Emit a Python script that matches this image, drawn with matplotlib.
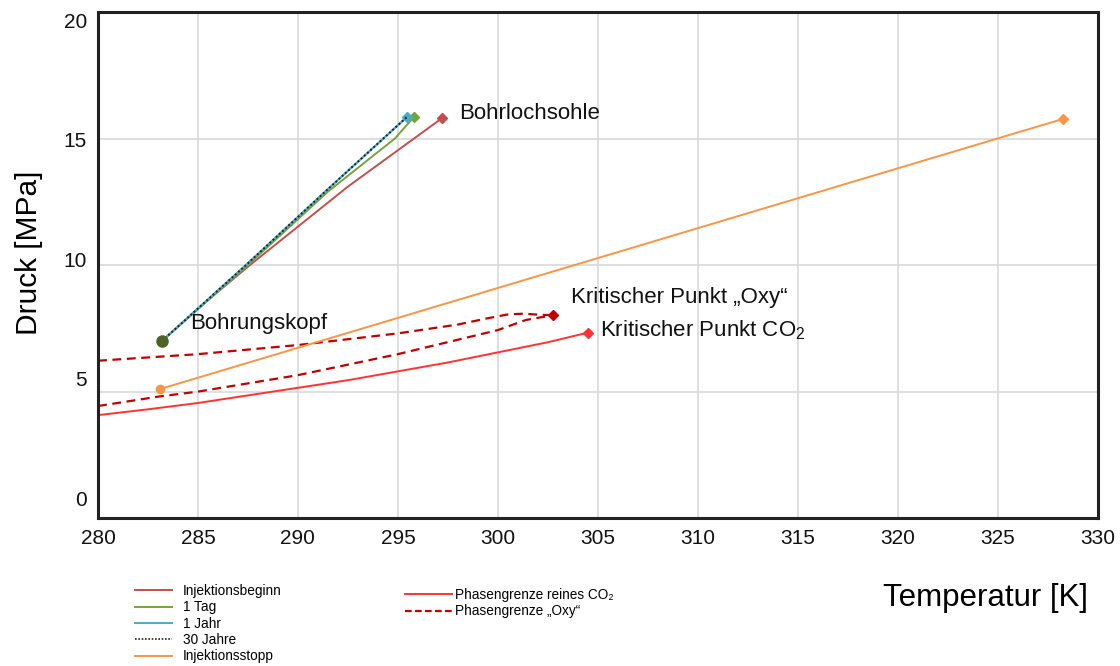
import matplotlib.pyplot as plt
from matplotlib.lines import Line2D
from matplotlib.transforms import ScaledTranslation

plt.rcParams['font.family'] = ['Liberation Sans', 'DejaVu Sans']
plt.rcParams['mathtext.fontset'] = 'custom'
plt.rcParams['mathtext.rm'] = 'Liberation Sans'

# Well profiles: temperature [K] / pressure [MPa] from wellhead to bottom hole
t_beginn = [283.2, 285.4, 287.6, 292.5, 297.2]
p_beginn = [7.0, 8.55, 10.0, 13.1, 15.8]
t_tag = [283.2, 287.5, 291.5, 294.85, 295.8]
p_tag = [7.0, 10.0, 12.9, 15.0, 15.85]
t_jahr = [283.2, 287.4, 291.5, 295.45]
p_jahr = [7.0, 10.0, 13.0, 15.85]
t_30 = [283.2, 287.4, 291.5, 295.45]
p_30 = [7.0, 10.0, 13.0, 15.85]
t_stopp = [283.1, 328.25]
p_stopp = [5.1, 15.77]

# Phase boundaries
t_co2 = [280.0, 282.5, 285.0, 287.5, 290.0, 292.5, 295.0, 297.5, 300.0, 302.5, 304.5]
p_co2 = [4.07, 4.3, 4.55, 4.85, 5.15, 5.45, 5.8, 6.15, 6.55, 6.95, 7.33]
t_oxy_tau = [280.0, 285.0, 290.0, 295.0, 298.0, 299.5, 300.5, 301.3, 302.0, 302.75]
p_oxy_tau = [6.22, 6.48, 6.84, 7.3, 7.65, 7.9, 8.05, 8.08, 8.04, 8.02]
t_oxy_siede = [280.0, 283.0, 285.0, 290.0, 295.0, 300.0, 301.4, 302.75]
p_oxy_siede = [4.43, 4.8, 5.0, 5.65, 6.48, 7.43, 7.83, 8.02]

x_ticks = [280, 285, 290, 295, 300, 305, 310, 315, 320, 325, 330]
y_ticks = [0, 5, 10, 15, 20]

c_beginn = '#c0504d'
c_tag = '#77a33c'
c_jahr = '#4bacc6'
c_stopp = '#f79646'
c_co2 = '#ff3333'
c_oxy = '#c00000'

fig = plt.figure(figsize=(11.2, 6.66), dpi=100)
ax = fig.add_axes([0.0875, 0.222, 0.8925, 0.76])

ax.plot(t_co2, p_co2, color=c_co2, lw=1.4)
ax.plot(t_co2[-1], p_co2[-1], 'D', color=c_co2, ms=5)
ax.plot(t_oxy_tau, p_oxy_tau, color=c_oxy, lw=1.6, ls=(0, (4, 2.5)))
ax.plot(t_oxy_siede, p_oxy_siede, color=c_oxy, lw=1.6, ls=(0, (4, 2.5)))
ax.plot(t_oxy_siede[-1], p_oxy_siede[-1], 'D', color=c_oxy, ms=5)

ax.plot(t_stopp, p_stopp, color=c_stopp, lw=1.4)
ax.plot(t_stopp[0], p_stopp[0], 'o', color=c_stopp, ms=6)
ax.plot(t_stopp[-1], p_stopp[-1], 'D', color=c_stopp, ms=5)

ax.plot(t_beginn, p_beginn, color=c_beginn, lw=1.4)
ax.plot(t_beginn[-1], p_beginn[-1], 'D', color=c_beginn, ms=5)
ax.plot(t_tag, p_tag, color=c_tag, lw=1.4)
ax.plot(t_tag[-1], p_tag[-1], 'D', color=c_tag, ms=5)
ax.plot(t_jahr, p_jahr, color=c_jahr, lw=1.6)
ax.plot(t_jahr[-1], p_jahr[-1], 'D', color=c_jahr, ms=5)
ax.plot(t_30, p_30, color='#222222', lw=1.4, ls=(0, (1, 1.2)))
ax.plot(t_30[0], p_30[0], 'o', color='#4f6228', ms=8)

lab = dict(fontsize=16, color='#111111')
ax.text(298.05, 16.0, 'Bohrlochsohle', va='center', **lab)
ax.text(284.6, 7.7, 'Bohrungskopf', va='center', **lab)
ax.text(303.65, 8.7, 'Kritischer Punkt \u201eOxy\u201c', va='center', **lab)
ax.text(305.1, 7.43, 'Kritischer Punkt CO$_\\mathregular{2}$', va='center', **lab)

ax.set_xlim(280, 330)
ax.set_ylim(0, 20)
ax.set_xticks(x_ticks)
ax.set_yticks(y_ticks)
ax.grid(True, color='#d9d9d9', lw=1.2)
ax.set_axisbelow(True)
ax.tick_params(length=0, labelsize=15, labelcolor='#111111', pad=8)
for s in ax.spines.values():
    s.set_linewidth(2.2)
    s.set_color('#222222')

# y labels sit on a slightly compressed spacing
for lbl, dy in zip(ax.get_yticklabels(), [20, 13, 6, -1, -9]):
    lbl.set_transform(lbl.get_transform() + ScaledTranslation(0, dy / 100, fig.dpi_scale_trans))

fig.text(0.026, 0.62, 'Druck [MPa]', rotation=90, fontsize=21.5, ha='center', va='center')
fig.text(0.88, 0.102, 'Temperatur [K]', fontsize=22.5, ha='center', va='center')

left_handles = [
    Line2D([], [], color=c_beginn, lw=1.4),
    Line2D([], [], color=c_tag, lw=1.4),
    Line2D([], [], color=c_jahr, lw=1.4),
    Line2D([], [], color='#222222', lw=1.2, ls=(0, (1, 1))),
    Line2D([], [], color=c_stopp, lw=1.4),
]
left_labels = ['Injektionsbeginn', '1 Tag', '1 Jahr', '30 Jahre', 'Injektionsstopp']
right_handles = [
    Line2D([], [], color=c_co2, lw=1.4),
    Line2D([], [], color=c_oxy, lw=1.6, ls=(0, (3, 1.5))),
]
right_labels = ['Phasengrenze reines CO\u2082', 'Phasengrenze \u201eOxy\u201c']

leg_kw = dict(frameon=False, fontsize=9.8, labelspacing=0.17,
              borderaxespad=0, borderpad=0)
fig.legend(left_handles, left_labels, loc='upper left', handlelength=2.7,
           handletextpad=0.8, bbox_to_anchor=(0.1205, 0.123), **leg_kw)
fig.legend(right_handles, right_labels, loc='upper left', handlelength=3.45,
           handletextpad=0.2, bbox_to_anchor=(0.3616, 0.117), **leg_kw)

fig.savefig('out.png', dpi=100)
